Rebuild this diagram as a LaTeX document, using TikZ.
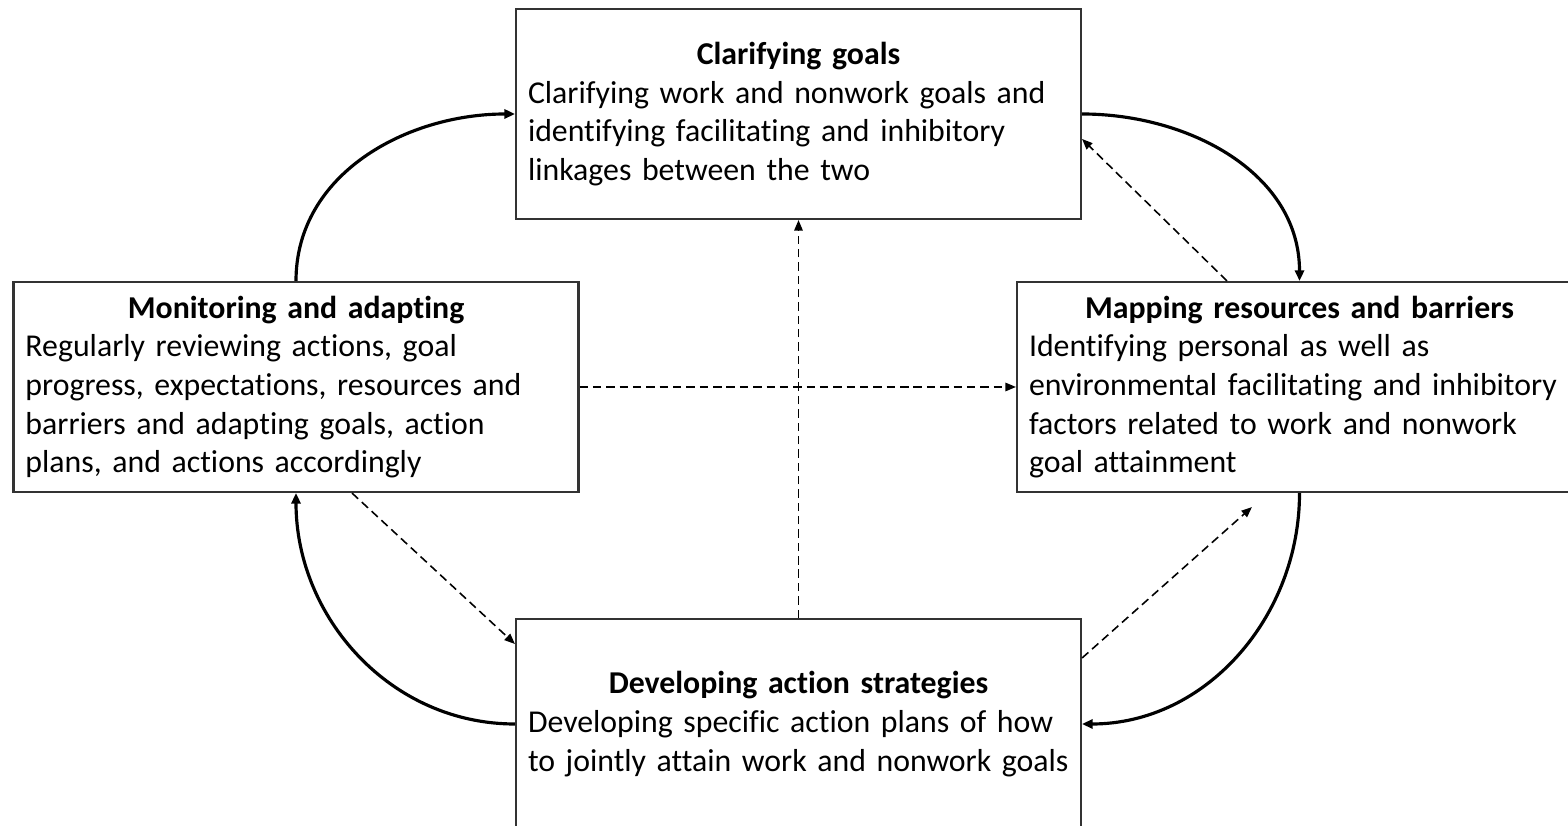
\documentclass[tikz,border=0pt]{standalone}
\usepackage{fontspec}
\setmainfont{Carlito}[Ligatures=NoCommon]
\usetikzlibrary{arrows.meta, positioning}

\newcommand{\stagetitle}[1]{\makebox[\linewidth]{\bfseries #1}}

\begin{document}
\begin{tikzpicture}[
    node distance=3cm,
    on grid,
    every node/.style={font=\fontsize{9.05}{11.0}\selectfont},
    stage/.style={draw=black!80, line width=0.6pt, minimum height=2.1cm, text width=5.41cm, inner sep=0.12cm, align=left},
    loopflow/.style={line width=0.9pt, -{Triangle[length=3pt, width=2.6pt]}},
    crosslink/.style={line width=0.45pt, dash pattern=on 2.4pt off 1.4pt, -{Triangle[length=3pt, width=2.4pt]}}
]
   \useasboundingbox (0,0) rectangle (15.68,8.26);

   % Stages
   \node[stage] (goals) at (7.985,7.12) {\stagetitle{Clarifying goals}\\
       Clarifying work and nonwork goals and\\
       identifying facilitating and inhibitory\\
       linkages between the two};
   \node[stage] (monitor) [below left=2.73cm and 5.025cm of goals] {\stagetitle{Monitoring and adapting}\\
       Regularly reviewing actions, goal\\
       progress, expectations, resources and\\
       barriers and adapting goals, action\\
       plans, and actions accordingly};
   \node[stage] (mapping) [below right=2.73cm and 5.01cm of goals] {\stagetitle{Mapping resources and barriers}\\
       Identifying personal as well as\\
       environmental facilitating and inhibitory\\
       factors related to work and nonwork\\
       goal attainment};
   \node[stage] (strategies) [below=6.1cm of goals] {\stagetitle{Developing action strategies}\\
       Developing specific action plans of how\\
       to jointly attain work and nonwork goals};

   \coordinate (maptip) at ([xshift=2.36cm, yshift=-0.14cm]mapping.south west);

   % Cycle
   \draw[loopflow] (monitor.north) to[out=90, in=180] (goals.west);
   \draw[loopflow] (goals.east) to[out=0, in=90] (mapping.north);
   \draw[loopflow] (mapping.south) to[out=270, in=0] (strategies.east);
   \draw[loopflow] (strategies.west) to[out=180, in=270] (monitor.south);

   % Cross links
   \draw[crosslink] (strategies.north) -- (goals.south);
   \draw[crosslink] (monitor.east) -- (mapping.west);
   \draw[crosslink] ([xshift=2.11cm]mapping.north west) -- ([yshift=-0.25cm]goals.east);
   \draw[crosslink] ([xshift=0.56cm]monitor.south) -- ([yshift=0.8cm]strategies.west);
   \draw[crosslink] ([yshift=0.66cm]strategies.east) -- (maptip);
\end{tikzpicture}
\end{document}
